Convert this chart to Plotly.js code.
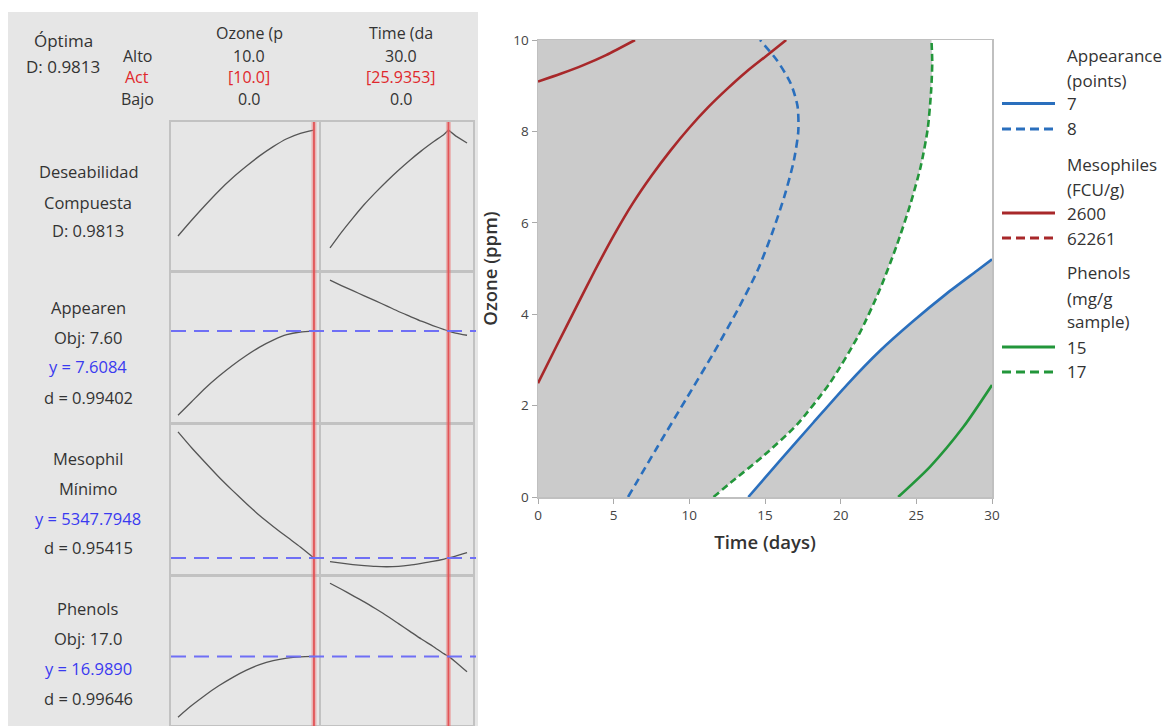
<!DOCTYPE html>
<html><head><meta charset="utf-8">
<script src="https://cdn.plot.ly/plotly-3.0.1.min.js"></script>
<style>html,body{margin:0;padding:0;background:#fff}#chart{width:1170px;height:726px}</style>
</head><body><div id="chart"></div>
<script>
const W = 1170, H = 726;
const X = p => p / W, Y = p => 1 - p / H;

// ---------- Optimization plot (factor settings) ----------
const factorNames   = ['Ozone (p', 'Time (da'];
const factorHigh    = ['10.0', '30.0'];
const factorCurrent = ['[10.0]', '[25.9353]'];
const factorLow     = ['0.0', '0.0'];
const currentOzone = 10.0;
const currentTime  = 25.9353;

const ozoneGrid = [0, 1, 2, 3, 4, 5, 6, 7, 8, 9, 10];
const timeGrid  = [0, 2.5, 5, 7.5, 10, 12.5, 15, 17.5, 20, 22.5, 25, 25.9353, 27.5, 30];

const desirabilityByOzone = [0.240, 0.350, 0.455, 0.555, 0.645, 0.725, 0.800, 0.865, 0.920, 0.958, 0.981];
const desirabilityByTime  = [0.156, 0.265, 0.365, 0.460, 0.545, 0.625, 0.700, 0.770, 0.835, 0.895, 0.952, 0.9813, 0.940, 0.890];
const appearanceByOzone   = [6.05, 6.30, 6.55, 6.77, 6.97, 7.15, 7.31, 7.44, 7.54, 7.59, 7.608];
const appearanceByTime    = [8.55, 8.45, 8.355, 8.26, 8.165, 8.07, 7.97, 7.88, 7.79, 7.71, 7.635, 7.608, 7.57, 7.53];
const mesophilesByOzone   = [51500, 45700, 40300, 35000, 30100, 25400, 20900, 16900, 13100, 9400, 5348];
const mesophilesByTime    = [4000, 3450, 2950, 2550, 2250, 2150, 2300, 2750, 3400, 4100, 4950, 5348, 6050, 7300];
const phenolsByOzone      = [14.78, 15.20, 15.58, 15.92, 16.22, 16.48, 16.69, 16.84, 16.93, 16.975, 16.989];
const phenolsByTime       = [19.65, 19.43, 19.20, 18.97, 18.72, 18.46, 18.18, 17.90, 17.62, 17.36, 17.08, 16.989, 16.79, 16.43];
const predictedY = [0.9813, 7.6084, 5347.7948, 16.9890];

const rowLabels = [
  ['Deseabilidad', 'Compuesta', 'D: 0.9813'],
  ['Appearen', 'Obj: 7.60', 'y = 7.6084', 'd = 0.99402'],
  ['Mesophil', 'Mínimo', 'y = 5347.7948', 'd = 0.95415'],
  ['Phenols', 'Obj: 17.0', 'y = 16.9890', 'd = 0.99646']
];

// ---------- Overlaid contour plot ----------
const timeRange  = [0, 30];
const ozoneRange = [0, 10];
const app7Time   = [13.9, 16.0, 18.2, 20.4, 22.6, 24.8, 27.0, 29.0, 30.0];
const app7Ozone  = [0, 0.80, 1.63, 2.45, 3.20, 3.85, 4.45, 4.95, 5.20];
const app8Time   = [5.95, 7.9, 9.8, 11.6, 13.2, 14.5, 15.5, 16.3, 16.9, 17.2, 17.15, 16.7, 15.8, 14.67];
const app8Ozone  = [0, 1.1, 2.15, 3.15, 4.1, 4.95, 5.8, 6.6, 7.35, 8.0, 8.55, 9.05, 9.55, 10];
const mes2600aTime  = [0, 1.5, 3.0, 4.5, 6.41];
const mes2600aOzone = [9.09, 9.26, 9.45, 9.67, 10];
const mes2600bTime  = [0, 1.25, 2.5, 3.75, 5, 6.25, 7.5, 8.75, 10, 11.25, 12.5, 13.75, 15, 16.4];
const mes2600bOzone = [2.49, 3.32, 4.14, 4.95, 5.72, 6.42, 7.03, 7.58, 8.08, 8.53, 8.93, 9.3, 9.63, 10];
const mes62261Time  = [];
const mes62261Ozone = [];
const phe15Time  = [23.8, 25.9, 28.1, 30.0];
const phe15Ozone = [0, 0.66, 1.53, 2.45];
const phe17Time  = [11.6, 12.9, 14.9, 17.1, 19.3, 21.2, 22.6, 23.7, 24.6, 25.3, 25.75, 25.98, 26.05, 26.0];
const phe17Ozone = [0, 0.36, 0.9, 1.58, 2.5, 3.55, 4.55, 5.5, 6.4, 7.25, 8.05, 8.9, 9.5, 10];

const BLUE = '#2a6fbd', RED = '#a8282a', GREEN = '#22963a';
const FONT = '"Open Sans", "Noto Sans", sans-serif';

const traces = [];
const layout = {
  width: W, height: H, margin: {l: 0, r: 0, t: 0, b: 0},
  paper_bgcolor: '#ffffff', plot_bgcolor: '#ffffff',
  font: {family: FONT, color: '#333'}, showlegend: false,
  shapes: [], annotations: []
};

// grey panel behind the optimization plot
layout.shapes.push({type: 'rect', xref: 'paper', yref: 'paper', x0: X(8), x1: X(478), y0: 0, y1: Y(12),
  fillcolor: '#e6e6e6', line: {width: 0}, layer: 'below'});

const colDom = [[X(171), X(319)], [X(321), X(473)]];
const colRange = [[-0.515, 10.37], [-1.97, 31.31]];
const rowDom = [[Y(271), Y(122)], [Y(423), Y(272)], [Y(575), Y(424)], [0.0015, Y(576)]];
const rowRange = [[-0.005, 1.037], [5.905, 8.701], [-874, 54392], [14.498, 19.913]];
const rowData = [
  [desirabilityByOzone, desirabilityByTime],
  [appearanceByOzone, appearanceByTime],
  [mesophilesByOzone, mesophilesByTime],
  [phenolsByOzone, phenolsByTime]
];
const smallAxis = {showticklabels: false, ticks: '', showgrid: false, zeroline: false,
  showline: true, mirror: true, linecolor: '#c2c2c2', linewidth: 2, fixedrange: true};

rowData.forEach((pair, r) => pair.forEach((ys, c) => {
  const idx = r * 2 + c + 1, s = idx === 1 ? '' : String(idx);
  layout['xaxis' + s] = Object.assign({}, smallAxis, {domain: colDom[c], range: colRange[c], anchor: 'y' + s});
  layout['yaxis' + s] = Object.assign({}, smallAxis, {domain: rowDom[r], range: rowRange[r], anchor: 'x' + s});
  const xs = c === 0 ? ozoneGrid : timeGrid;
  const base = {type: 'scatter', mode: 'lines', xaxis: 'x' + s, yaxis: 'y' + s, hoverinfo: 'skip', showlegend: false};
  if (r === 0 && c === 1) {
    const k = timeGrid.indexOf(currentTime);
    traces.push(Object.assign({}, base, {x: xs.slice(0, k + 1), y: ys.slice(0, k + 1), line: {color: '#555', width: 1.3, shape: 'spline', smoothing: 0.6}}));
    traces.push(Object.assign({}, base, {x: xs.slice(k), y: ys.slice(k), line: {color: '#555', width: 1.3}}));
  } else {
    traces.push(Object.assign({}, base, {x: xs, y: ys, line: {color: '#555', width: 1.3, shape: 'spline', smoothing: 0.6}}));
  }
}));

// red current-setting lines
[['x', currentOzone], ['x2', currentTime]].forEach(([ax, v]) => {
  layout.shapes.push({type: 'line', xref: ax, yref: 'paper', x0: v, x1: v, y0: 0, y1: Y(122), line: {color: 'rgba(236,120,120,0.45)', width: 5}});
  layout.shapes.push({type: 'line', xref: ax, yref: 'paper', x0: v, x1: v, y0: 0, y1: Y(122), line: {color: '#e25457', width: 1.8}});
});
// blue predicted-response lines
[['y3', predictedY[1]], ['y5', predictedY[2]], ['y7', predictedY[3]]].forEach(([ax, v]) => {
  layout.shapes.push({type: 'line', xref: 'paper', yref: ax, x0: X(171), x1: X(476), y0: v, y1: v,
    line: {color: '#6f6ff5', width: 2, dash: '15px,8px'}});
});

function ann(text, x, y, opts) {
  layout.annotations.push(Object.assign({text: text, x: X(x), y: Y(y), xref: 'paper', yref: 'paper',
    showarrow: false, xanchor: 'center', yanchor: 'middle', borderpad: 0, font: {size: 16.5, color: '#333', family: FONT}}, opts || {}));
}
const REDTXT = '#e0282c', BLUETXT = '#3a3af0';
const TOP = 16;
ann('Óptima', 63, 41, {font: {size: 17, color: '#333', family: FONT}});
ann('D: 0.9813', 63, 67, {font: {size: 17, color: '#333', family: FONT}});
ann('Alto', 137, 56, {font: {size: TOP, color: '#333', family: FONT}});
ann('Act', 137, 77, {font: {size: TOP, color: REDTXT, family: FONT}});
ann('Bajo', 137, 98.5, {font: {size: TOP, color: '#333', family: FONT}});
const colCenters = [249, 401];
factorNames.forEach((n, i) => {
  ann(n, colCenters[i], 33, {font: {size: TOP, color: '#333', family: FONT}});
  ann(factorHigh[i], colCenters[i], 56, {font: {size: TOP, color: '#333', family: FONT}});
  ann(factorCurrent[i], colCenters[i], 77, {font: {size: TOP, color: REDTXT, family: FONT}});
  ann(factorLow[i], colCenters[i], 98.5, {font: {size: TOP, color: '#333', family: FONT}});
});
const rowLabelY = [[172, 202, 231], [307, 337, 367, 397], [458, 488, 518, 547], [608, 638, 668, 698]];
rowLabels.forEach((lines, r) => lines.forEach((t, j) => {
  const blue = t.indexOf('y = ') === 0;
  ann(t, 88, rowLabelY[r][j], blue ? {font: {size: 16.5, color: BLUETXT, family: FONT}} : {});
}));

// ---------- contour plot ----------
layout.xaxis9 = {domain: [X(538), X(992)], range: timeRange, anchor: 'y9', dtick: 5, tick0: 0,
  ticks: 'outside', ticklen: 5, tickcolor: '#aaa', tickfont: {size: 13.5, color: '#444'},
  showline: true, mirror: true, linecolor: '#c0c0c0', linewidth: 1.5, showgrid: false, zeroline: false, fixedrange: true,
  title: {text: 'Time (days)', font: {size: 18.5, weight: 600, color: '#333'}, standoff: 13}};
layout.yaxis9 = {domain: [Y(497), Y(40)], range: ozoneRange, anchor: 'x9', dtick: 2, tick0: 0,
  ticks: 'outside', ticklen: 5, tickcolor: '#aaa', tickfont: {size: 13.5, color: '#444'},
  showline: true, mirror: true, linecolor: '#c0c0c0', linewidth: 1.5, showgrid: false, zeroline: false, fixedrange: true,
  title: {text: 'Ozone (ppm)', font: {size: 18.5, weight: 600, color: '#333'}, standoff: 11}};

layout.shapes.push({type: 'rect', xref: 'x9', yref: 'y9', x0: timeRange[0], x1: timeRange[1], y0: ozoneRange[0], y1: ozoneRange[1],
  fillcolor: '#cbcbcb', line: {width: 0}, layer: 'below'});

// feasible (white) region between Phenols 17 and Appearance 7
traces.push({type: 'scatter', mode: 'lines', xaxis: 'x9', yaxis: 'y9', hoverinfo: 'skip', showlegend: false,
  x: phe17Time.concat([timeRange[1]], app7Time.slice().reverse()),
  y: phe17Ozone.concat([ozoneRange[1]], app7Ozone.slice().reverse()),
  fill: 'toself', fillcolor: '#ffffff', line: {width: 0}});

const contourLines = [
  {x: app8Time, y: app8Ozone, color: BLUE, dash: '8px,5px'},
  {x: app7Time, y: app7Ozone, color: BLUE, dash: 'solid'},
  {x: mes2600aTime, y: mes2600aOzone, color: RED, dash: 'solid'},
  {x: mes2600bTime, y: mes2600bOzone, color: RED, dash: 'solid'},
  {x: mes62261Time, y: mes62261Ozone, color: RED, dash: '7px,5px'},
  {x: phe17Time, y: phe17Ozone, color: GREEN, dash: '7px,4px'},
  {x: phe15Time, y: phe15Ozone, color: GREEN, dash: 'solid'}
];
contourLines.forEach(cl => traces.push({type: 'scatter', mode: 'lines', xaxis: 'x9', yaxis: 'y9', hoverinfo: 'skip', showlegend: false,
  x: cl.x, y: cl.y, line: {color: cl.color, width: 2.6, dash: cl.dash, shape: 'spline', smoothing: 0.7}}));

// legend (drawn as text + line samples)
const legendRows = [
  {t: 'Appearance', y: 55}, {t: '(points)', y: 81},
  {t: '7', y: 103.5, c: BLUE, d: 'solid'}, {t: '8', y: 129, c: BLUE, d: '9px,5px'},
  {t: 'Mesophiles', y: 164}, {t: '(FCU/g)', y: 190},
  {t: '2600', y: 213, c: RED, d: 'solid'}, {t: '62261', y: 238, c: RED, d: '9px,5px'},
  {t: 'Phenols', y: 272}, {t: '(mg/g', y: 298}, {t: 'sample)', y: 322},
  {t: '15', y: 347, c: GREEN, d: 'solid'}, {t: '17', y: 372, c: GREEN, d: '9px,5px'}
];
legendRows.forEach(row => {
  ann(row.t, 1066, row.y, {xanchor: 'left', font: {size: 17, color: '#333', family: FONT}});
  if (row.c) layout.shapes.push({type: 'line', xref: 'paper', yref: 'paper', x0: X(1002), x1: X(1055), y0: Y(row.y), y1: Y(row.y),
    line: {color: row.c, width: 3, dash: row.d}});
});

Plotly.newPlot('chart', traces, layout, {staticPlot: true, displayModeBar: false});
</script></body></html>
